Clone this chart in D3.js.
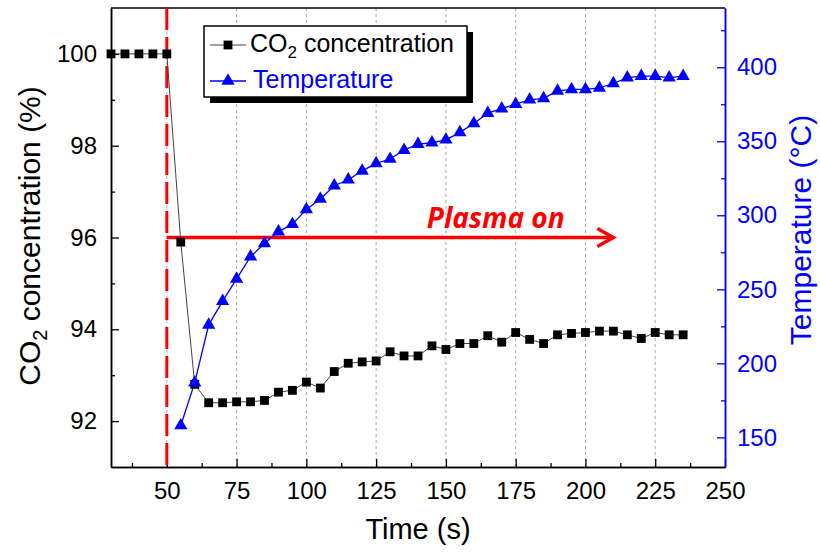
<!DOCTYPE html>
<html>
<head>
<meta charset="utf-8">
<script src="https://cdn.jsdelivr.net/npm/d3@7"></script>
<style>
  body { margin: 0; background: #fff; }
  svg { font-family: "Liberation Sans", Arial, sans-serif; }
</style>
</head>
<body>
<script>
// data
var co2Time = [30, 35, 40, 45, 50, 55, 60, 65, 70, 75, 80, 85, 90, 95, 100, 105, 110, 115, 120, 125,
  130, 135, 140, 145, 150, 155, 160, 165, 170, 175, 180, 185, 190, 195, 200, 205, 210, 215, 220, 225, 230, 235];
var co2Values = [100, 100, 100, 100, 100, 95.9, 92.8, 92.4, 92.4, 92.42, 92.42, 92.45, 92.63, 92.67, 92.85, 92.72,
  93.08, 93.26, 93.29, 93.31, 93.51, 93.42, 93.42, 93.64, 93.56, 93.69, 93.69, 93.86, 93.72, 93.93, 93.78,
  93.69, 93.88, 93.91, 93.93, 93.96, 93.96, 93.88, 93.80, 93.93, 93.88, 93.88];
var tempTime = [55, 60, 65, 70, 75, 80, 85, 90, 95, 100, 105, 110, 115, 120, 125, 130, 135, 140, 145, 150,
  155, 160, 165, 170, 175, 180, 185, 190, 195, 200, 205, 210, 215, 220, 225, 230, 235];
var tempValues = [158, 187, 226, 242, 257, 272, 281, 289, 294, 304, 311, 320, 324, 330, 335, 338, 344, 348, 349, 351,
  356, 362, 369, 372, 375, 378, 379, 384, 385, 385, 386, 389, 393, 394, 394, 393, 394];

var xTicks = [50, 75, 100, 125, 150, 175, 200, 225, 250];
var xMinor = [37.5, 62.5, 87.5, 112.5, 137.5, 162.5, 187.5, 212.5, 237.5];
var co2Ticks = [92, 94, 96, 98, 100];
var co2Minor = [93, 95, 97, 99];
var tempTicks = [150, 200, 250, 300, 350, 400];
var tempMinor = [175, 225, 275, 325, 375, 425];
var gridTimes = [50, 75, 100, 125, 150, 175, 200, 225];

var plasmaStart = 50, plasmaEnd = 210, plasmaLevel = 96;

var width = 820, height = 552,
    margin = { top: 8, right: 95, bottom: 85, left: 111 };

var svg = d3.select('body').append('svg')
    .attr('width', width)
    .attr('height', height);

var w = width - margin.left - margin.right,
    h = height - margin.top - margin.bottom;

var x = d3.scaleLinear().domain([30, 250]).range([0, w]);
var y = d3.scaleLinear().domain([91, 101]).range([h, 0]);
var yT = d3.scaleLinear().domain([130, 440]).range([h, 0]);

var g = svg.append('g')
    .attr('transform', 'translate(' + margin.left + ',' + margin.top + ')');

// dotted vertical grid
g.selectAll('.grid')
  .data(gridTimes)
  .enter().append('line')
    .attr('x1', function(d) { return x(d); })
    .attr('x2', function(d) { return x(d); })
    .attr('y1', 0)
    .attr('y2', h)
    .attr('stroke', '#aaa')
    .attr('stroke-width', 1)
    .attr('stroke-dasharray', '3,3');

// axes
function styleAxis(sel, color) {
  sel.selectAll('path').attr('stroke', color).attr('stroke-width', 1.5);
  sel.selectAll('line').attr('stroke', color).attr('stroke-width', 1.3);
  sel.selectAll('text').attr('fill', color).style('font-size', '24px');
}

var xAxis = g.append('g')
    .attr('transform', 'translate(0,' + h + ')')
    .call(d3.axisBottom(x).tickValues(xTicks).tickSizeInner(-8).tickSizeOuter(0).tickPadding(15));
styleAxis(xAxis, '#000');
g.append('g')
    .attr('transform', 'translate(0,' + h + ')')
    .call(d3.axisBottom(x).tickValues(xMinor).tickSizeInner(-4).tickSizeOuter(0).tickFormat(''))
    .call(styleAxis, '#000');

var yAxis = g.append('g')
    .call(d3.axisLeft(y).tickValues(co2Ticks).tickSizeInner(-8).tickSizeOuter(0).tickPadding(14));
styleAxis(yAxis, '#000');
g.append('g')
    .call(d3.axisLeft(y).tickValues(co2Minor).tickSizeInner(-4).tickSizeOuter(0).tickFormat(''))
    .call(styleAxis, '#000');

// top frame line
g.append('line')
    .attr('x1', 0).attr('x2', w).attr('y1', 0).attr('y2', 0)
    .attr('stroke', '#000').attr('stroke-width', 1.5);

var tAxis = g.append('g')
    .attr('transform', 'translate(' + w + ',0)')
    .call(d3.axisRight(yT).tickValues(tempTicks).tickSizeInner(-8).tickSizeOuter(0).tickPadding(12));
styleAxis(tAxis, '#00f');
g.append('g')
    .attr('transform', 'translate(' + w + ',0)')
    .call(d3.axisRight(yT).tickValues(tempMinor).tickSizeInner(-4).tickSizeOuter(0).tickFormat(''))
    .call(styleAxis, '#00f');

// plasma on marker: dashed vertical + arrow
g.append('line')
    .attr('x1', x(plasmaStart)).attr('x2', x(plasmaStart))
    .attr('y1', 0).attr('y2', h)
    .attr('stroke', '#f00').attr('stroke-width', 3)
    .attr('stroke-dasharray', '22,7');

g.append('line')
    .attr('x1', x(plasmaStart)).attr('x2', x(plasmaEnd))
    .attr('y1', y(plasmaLevel)).attr('y2', y(plasmaLevel))
    .attr('stroke', '#f00').attr('stroke-width', 3.5);
g.append('path')
    .attr('d', 'M' + (x(plasmaEnd) - 16) + ',' + (y(plasmaLevel) - 9) +
               'L' + x(plasmaEnd) + ',' + y(plasmaLevel) +
               'L' + (x(plasmaEnd) - 16) + ',' + (y(plasmaLevel) + 9))
    .attr('fill', 'none').attr('stroke', '#f00').attr('stroke-width', 3.5);

g.append('text')
    .attr('x', x(plasmaStart) + 260)
    .attr('y', y(plasmaLevel) - 10)
    .attr('fill', '#f00')
    .style('font-family', '"Open Sans", sans-serif')
    .style('font-weight', 700)
    .style('font-style', 'italic')
    .style('font-size', '28px')
    .text('Plasma on');

// series
var co2Line = d3.line()
    .x(function(d, i) { return x(co2Time[i]); })
    .y(function(d) { return y(d); });
var tempLine = d3.line()
    .x(function(d, i) { return x(tempTime[i]); })
    .y(function(d) { return yT(d); });

g.append('path')
    .attr('d', co2Line(co2Values))
    .attr('fill', 'none').attr('stroke', '#444').attr('stroke-width', 1);
g.append('path')
    .attr('d', tempLine(tempValues))
    .attr('fill', 'none').attr('stroke', '#00f').attr('stroke-width', 1.3);

var square = d3.symbol().type(d3.symbolSquare).size(78);
var triangle = d3.symbol().type(d3.symbolTriangle).size(76);

g.selectAll('.co2')
  .data(co2Values)
  .enter().append('path')
    .attr('class', 'co2')
    .attr('d', square)
    .attr('transform', function(d, i) { return 'translate(' + x(co2Time[i]) + ',' + y(d) + ')'; })
    .attr('fill', '#000');

g.selectAll('.temp')
  .data(tempValues)
  .enter().append('path')
    .attr('class', 'temp')
    .attr('d', triangle)
    .attr('transform', function(d, i) { return 'translate(' + x(tempTime[i]) + ',' + yT(d) + ')'; })
    .attr('fill', '#00f');

// legend with drop shadow
var lg = svg.append('g');
lg.append('rect')
    .attr('x', 210).attr('y', 32).attr('width', 263).attr('height', 71)
    .attr('fill', '#000');
lg.append('rect')
    .attr('x', 204).attr('y', 26).attr('width', 263).attr('height', 71)
    .attr('fill', '#fff').attr('stroke', '#000').attr('stroke-width', 1.5);

lg.append('line')
    .attr('x1', 210).attr('x2', 246).attr('y1', 45).attr('y2', 45)
    .attr('stroke', '#444').attr('stroke-width', 1);
lg.append('path').attr('d', square).attr('transform', 'translate(228,45)').attr('fill', '#000');
var t1 = lg.append('text').attr('x', 250).attr('y', 52).style('font-size', '25px').attr('fill', '#000');
t1.append('tspan').text('CO');
t1.append('tspan').attr('dy', 6).style('font-size', '17px').text('2');
t1.append('tspan').attr('dy', -6).text(' concentration');

lg.append('line')
    .attr('x1', 210).attr('x2', 246).attr('y1', 81).attr('y2', 81)
    .attr('stroke', '#00f').attr('stroke-width', 1.3);
lg.append('path').attr('d', triangle).attr('transform', 'translate(228,81)').attr('fill', '#00f');
lg.append('text').attr('x', 253).attr('y', 88).style('font-size', '25px').attr('fill', '#00f')
    .text('Temperature');

// axis titles
svg.append('text')
    .attr('x', margin.left + w / 2)
    .attr('y', 539)
    .attr('text-anchor', 'middle')
    .style('font-size', '29px')
    .text('Time (s)');

var yl = svg.append('text')
    .attr('transform', 'translate(40,236) rotate(-90)')
    .attr('text-anchor', 'middle')
    .style('font-size', '30px');
yl.append('tspan').text('CO');
yl.append('tspan').attr('dy', 7).style('font-size', '20px').text('2');
yl.append('tspan').attr('dy', -7).text(' concentration (%)');

svg.append('text')
    .attr('transform', 'translate(811,230) rotate(-90)')
    .attr('text-anchor', 'middle')
    .attr('fill', '#00f')
    .style('font-size', '30px')
    .text('Temperature (°C)');
</script>
</body>
</html>
